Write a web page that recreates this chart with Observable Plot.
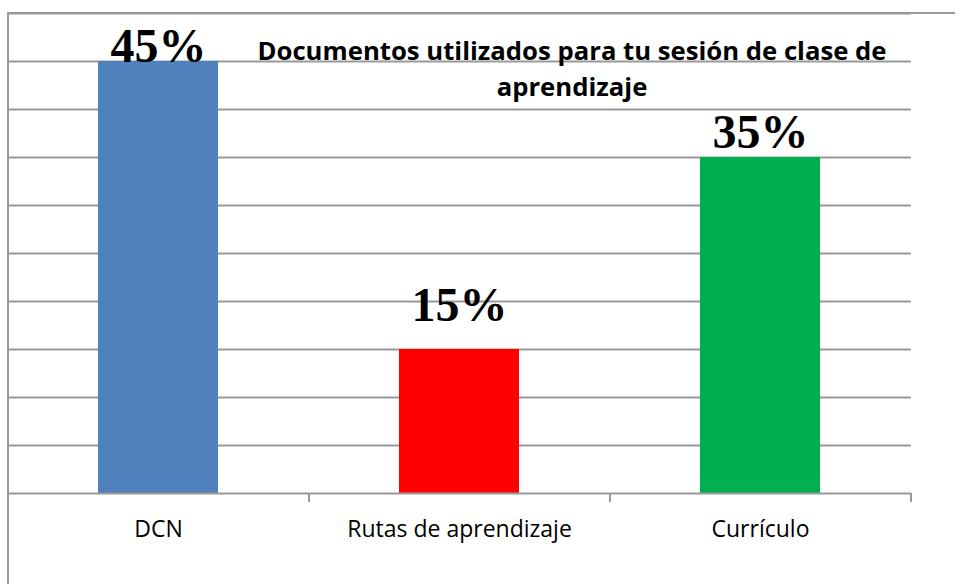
<!DOCTYPE html>
<html>
<head>
<meta charset="utf-8">
<script src="https://cdn.jsdelivr.net/npm/d3@7"></script>
<script src="https://cdn.jsdelivr.net/npm/@observablehq/plot@0.6"></script>
<style>
  html, body { margin: 0; padding: 0; background: #fff; }
  #wrap { position: relative; width: 955px; height: 584px; overflow: hidden; }
  #frame { position: absolute; left: 7px; top: 12px; width: 1000px; height: 1000px;
           border-left: 2px solid #999; border-top: 2px solid #999; box-sizing: border-box; }
  #chart { position: absolute; left: 0; top: 0; }
</style>
</head>
<body>
<div id="wrap"><div id="chart"></div><div id="frame"></div></div>
<script>
const title = "Documentos utilizados para tu sesión de clase de\naprendizaje";
const categories = ["DCN", "Rutas de aprendizaje", "Currículo"];
const values = [45, 15, 35];
const colors = ["#4f81bd", "#ff0000", "#00b050"];
const yTicks = [0, 5, 10, 15, 20, 25, 30, 35, 40, 45, 50];

const data = categories.map((c, i) => ({category: c, value: values[i], color: colors[i], label: values[i] + "%"}));
const labelOffsets = {"DCN": 0, "Rutas de aprendizaje": -29, "Currículo": -10};

const step = (911 - 8) / categories.length;

const chart = Plot.plot({
  width: 955,
  height: 584,
  marginLeft: 8,
  marginRight: 44,
  marginTop: 13,
  marginBottom: 91,
  style: {fontFamily: "'Open Sans', sans-serif", background: "#fff"},
  x: {domain: categories, paddingInner: 0.6, paddingOuter: 0.3, label: null},
  y: {domain: [0, 50], axis: null},
  marks: [
    Plot.ruleY(yTicks.filter(d => d > 0), {stroke: "#999", strokeWidth: 2, strokeOpacity: 1}),
    Plot.barY(data, {x: "category", y: "value", fill: "color"}),
    Plot.ruleY([0], {stroke: "#999", strokeWidth: 2}),
    Plot.ruleX(categories, {x: d => d, dx: step / 2, y1: 0, y2: -0.95, stroke: "#999", strokeWidth: 2}),
    Plot.axisX({tickSize: 0, tickPadding: 27, fontSize: 23, fill: "#000"}),
    ...data.map(d => Plot.text([d], {
      x: "category", y: "value", text: "label", lineAnchor: "bottom", dy: labelOffsets[d.category],
      fontFamily: "'Liberation Serif', 'Times New Roman', serif", fontWeight: "bold", fontSize: 48, fill: "#000"
    })),
    Plot.text([title], {
      frameAnchor: "top", dx: 112, dy: 21, lineAnchor: "top", lineHeight: 1.40,
      fontWeight: "bold", fontSize: 25.7, fill: "#000", textAnchor: "middle"
    })
  ]
});
document.getElementById("chart").appendChild(chart);
</script>
</body>
</html>
